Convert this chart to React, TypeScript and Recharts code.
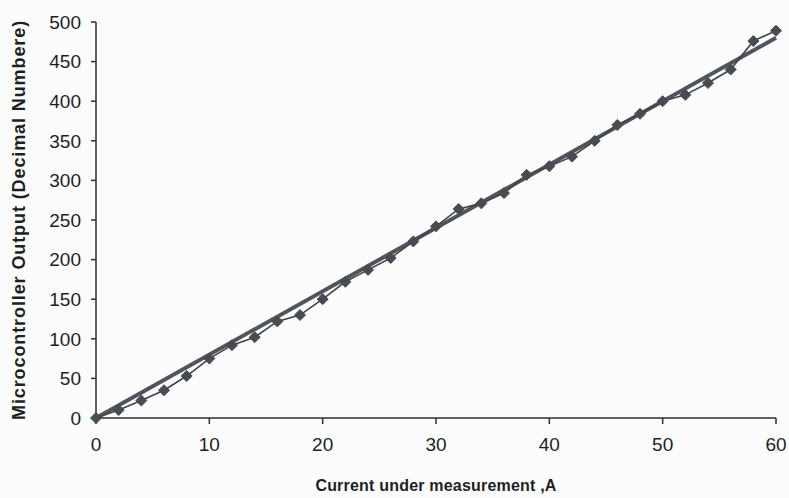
import React from 'react';
import { LineChart, Line, XAxis, YAxis } from 'recharts';

// measured current (A) and the microcontroller reading
const currentA = [0, 2, 4, 6, 8, 10, 12, 14, 16, 18, 20, 22, 24, 26, 28, 30, 32, 34, 36, 38, 40, 42, 44, 46, 48, 50, 52, 54, 56, 58, 60];
const output = [0, 10, 22, 35, 53, 75, 92, 102, 122, 130, 150, 172, 187, 202, 223, 242, 264, 271, 284, 307, 318, 330, 350, 370, 384, 400, 408, 423, 440, 476, 489];

// straight reference line
const fitX = [0, 60];
const fitY = [0, 480];

const xTicks = [0, 10, 20, 30, 40, 50, 60];
const yTicks = [0, 50, 100, 150, 200, 250, 300, 350, 400, 450, 500];

const measured = currentA.map((x, i) => ({ x, y: output[i] }));
const fit = fitX.map((x, i) => ({ x, y: fitY[i] }));

const INK = '#2b2e33';
const LINE = '#50555c';
const FONT = 'Liberation Sans, Arial, sans-serif';

const Diamond = (props: any) => {
  const { cx, cy } = props;
  if (cx == null || cy == null) return null;
  const s = 5.5;
  return (
    <polygon
      points={`${cx},${cy - s} ${cx + s},${cy} ${cx},${cy + s} ${cx - s},${cy}`}
      fill="#474b52"
      stroke="#474b52"
      strokeWidth={1}
    />
  );
};

export default function App() {
  return (
    <div style={{ position: 'fixed', left: 0, top: 0, width: 789, height: 498, background: '#fcfcfd' }}>
      <LineChart width={789} height={498} data={measured} margin={{ top: 22, right: 13, bottom: 5, left: 0 }}>
        <XAxis
          dataKey="x"
          type="number"
          domain={[0, 60]}
          ticks={xTicks}
          stroke={INK}
          strokeWidth={1.5}
          tickSize={6}
          tickMargin={14}
          height={75}
          tick={{ fill: '#1e1f22', fontSize: 19, fontFamily: FONT }}
          label={{
            value: 'Current under measurement ,A',
            position: 'insideBottom',
            offset: 2,
            style: { fill: '#1e1f22', fontSize: 16, fontWeight: 700, fontFamily: FONT, letterSpacing: 0.2 },
          }}
        />
        <YAxis
          dataKey="y"
          type="number"
          domain={[0, 500]}
          ticks={yTicks}
          width={96}
          stroke={INK}
          strokeWidth={1.5}
          tickSize={5}
          tickMargin={10}
          tick={{ fill: '#1e1f22', fontSize: 19, fontFamily: FONT }}
          label={{
            value: 'Microcontroller Output (Decimal Numbere)',
            angle: -90,
            position: 'insideLeft',
            offset: 19,
            style: { textAnchor: 'middle', fill: '#1e1f22', fontSize: 18, fontWeight: 700, fontFamily: FONT, letterSpacing: 0.9 },
          }}
        />
        <Line
          data={fit}
          dataKey="y"
          type="linear"
          stroke={LINE}
          strokeWidth={4}
          dot={false}
          isAnimationActive={false}
        />
        <Line
          dataKey="y"
          type="linear"
          stroke="#3f434a"
          strokeWidth={1.6}
          dot={<Diamond />}
          activeDot={false}
          isAnimationActive={false}
        />
      </LineChart>
    </div>
  );
}
